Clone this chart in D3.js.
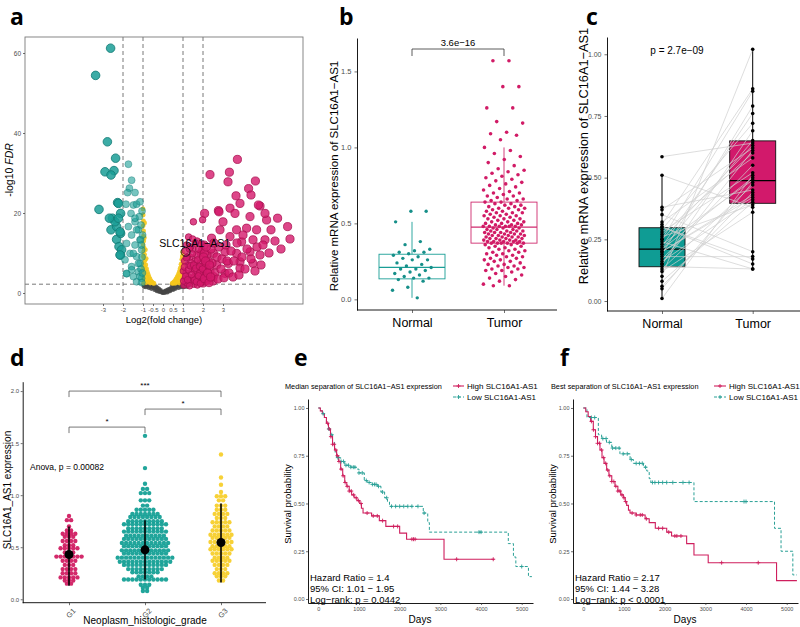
<!DOCTYPE html>
<html><head><meta charset="utf-8">
<script src="https://cdn.jsdelivr.net/npm/d3@7"></script>
<style>body{margin:0;background:#fff}svg{display:block}</style>
</head><body><svg id="chart" width="800" height="627"></svg>
<script>
// ---------------- DATA ----------------
// a: volcano [log2FC, -log10 FDR]
const volcTeal = [[-2.62,61.2],[-3.37,54.4],[-2.78,37.8],[-2.37,33.7],[-2.9,30.3],[-2.45,30.6],[-2.6,29.5],[-3.2,20.9],[-2.27,22.6],[-2.53,18.7],[-2.12,19.9],[-2.6,15.8],[-2.32,16.6],[-2.32,13.4],[-2.12,14.9],[-2.12,9.5],[-2.2,11.6],[-2.4,17.8],[-2.23,18.7],[-2.68,18.7],[-2.23,22.4],[-2.15,15.3],[-2.07,10.8],[-2.15,9.5],
[-1.73,32.2],[-1.57,28.2],[-1.68,26.2],[-1.77,25.1],[-1.4,25.1],[-1.85,22.2],[-1.48,22],[-1.32,22.2],[-1.6,19.9],[-1.18,19.1],[-1.4,17.8],[-1.73,16.6],[-1.23,15.8],[-1.57,14.5],[-1.15,13.3],[-1.82,12.4],[-1.4,12],[-1.07,10.8],[-1.65,9.9],[-1.32,9.1],[-1.9,8.3],[-1.15,7.4],[-1.57,6.6],[-1.23,5.3],[-1.82,4.8],[-1.48,4.1],[-1.07,3.7],[-1.32,2.8],[-1.15,22.8],[-1.4,18.7],[-1.32,15.8],[-1.12,13.3],[-1.48,9.9],[-1.23,7.4],[-1.57,5.8],[-1.15,4.1],[-1.82,4.9],[-1.05,20.5],[-1.1,17],[-1.02,14.5],[-1.08,12],[-1.05,9],[-1.1,6],[-1.03,5],[-1.06,2.6]];
const volcPink = [[3.72,33.4],[2.35,29.6],[3.32,30.2],[3.25,27.8],[4.62,28],[4.28,26.1],[4.4,24.5],[3.65,24.3],[2.08,19.9],[2.77,20.6],[3.35,21.2],[3.85,22.4],[4.85,21.75],[5.18,18.25],[5.1,19.9],[5.73,18.7],[6.23,16.6],[6.35,13.5],[5.4,15.8],[5.1,13.3],
[1.52,17.8],[1.98,18.3],[2.8,20.3],[4.77,22],[4.35,19.1],[3.6,19.9],[3.0,17.8],[2.85,15.8],[3.68,15.8],[4.18,16.2],[4.68,15.8],[4.5,13.3],[3.93,12.8],[3.35,14.1],[2.43,13.7],[1.93,10.8],[2.52,9.9],[3.1,10.3],[3.68,9.9],[4.35,10.3],[4.85,9.5],[3.85,7.8],[4.5,7.4],[3.27,7.4],[2.68,7],[3.1,4.9],[3.85,6.2],[2.18,5.8],[1.85,4.1],[2.52,4.1],
[1.05,2],[1.1,3.5],[1.15,5],[1.2,2.5],[1.25,7],[1.3,4],[1.35,9],[1.4,3],[1.45,6],[1.5,11],[1.55,2.2],[1.6,8],[1.65,4.5],[1.7,13],[1.75,6.5],[1.8,3],[1.85,10],[1.9,5],[1.95,8.5],[2.0,2.5],[2.05,12],[2.1,7],[2.15,4],[2.2,9.5],[1.08,8],[1.12,10.5],[1.18,12],[1.28,14],[1.38,11.5],[1.48,13.5],[1.58,5.5],[1.68,9.5],[1.78,11],[1.88,7.5],[1.98,4.5],[2.08,10],[2.18,6],[2.28,8],[1.02,5.5],[1.22,9],[1.42,7.5],[1.62,12.5],[1.82,5],[2.02,6.5],[2.25,3.5],[1.33,1.8],[1.52,3.8],[1.72,2],[1.92,2.8],[2.12,3],[2.35,5.5],[2.4,11],[2.45,7.5],[2.5,3],[2.55,12.5],[2.6,5],[2.7,9],[2.75,3.5],[2.8,11.5],[2.9,6],[2.95,8.5],[3.05,3.8],[3.15,12],[3.2,8],[3.3,5],[3.4,10.5],[3.5,4],[3.55,8],[3.7,12.5],[3.8,4.5],[3.95,9],[4.1,6],[4.2,11],[4.0,14.5],[4.4,8.5],[4.6,5.5],[4.7,11.5],[4.9,7],[5.0,12],[5.3,10],[5.6,13],[5.9,11],
[1.03,3],[1.07,6.5],[1.13,4.2],[1.17,8.8],[1.23,3.3],[1.27,5.8],[1.32,11],[1.37,6.8],[1.43,4.6],[1.47,9.8],[1.53,7],[1.57,3.2],[1.63,6.2],[1.67,2.8],[1.73,8.3],[1.77,4.3],[1.83,6.6],[1.87,2.4],[1.93,12.2],[1.97,6],[2.03,9],[2.07,3.6],[2.13,8],[2.17,11.5],[2.23,5],[2.3,2.6],[2.33,7],[2.38,4]];
const volcYellow = [[-1.0,21],[-0.99,19.5],[-0.98,18],[-0.99,16.8],[-0.97,15.5],[-0.98,14.2],[-0.96,13],[-0.99,12],[-0.94,11.2],[-0.97,10.3],[-0.92,9.6],[-0.96,8.8],[-0.9,8.1],[-0.95,7.4],[-0.86,7],[-0.93,6.4],[-0.82,6],[-0.9,5.6],[-0.78,5.2],[-0.95,5],[-0.74,4.6],[-0.86,4.4],[-0.7,4],[-0.8,3.8],[-0.97,3.6],[-0.65,3.5],[-0.76,3.2],[-0.9,3],[-0.6,3],[-0.7,2.8],[-0.55,2.7],[-0.83,2.6],[-0.5,2.5],[-0.64,2.5],[-0.45,2.4],[-0.97,2.5],[-0.92,17.5],[-0.93,13.8],[-0.88,10.8],[-0.84,8.6],[-0.99,6.2],[-0.98,9.2],
[0.99,10.2],[0.97,9.2],[0.94,8.4],[0.99,7.6],[0.9,7.2],[0.96,6.6],[0.86,6.2],[0.93,5.7],[0.82,5.4],[0.98,5.2],[0.78,4.8],[0.89,4.6],[0.74,4.3],[0.95,4.1],[0.7,3.9],[0.84,3.7],[0.66,3.5],[0.98,3.4],[0.62,3.2],[0.76,3.1],[0.58,2.9],[0.9,2.9],[0.54,2.7],[0.68,2.6],[0.5,2.5],[0.82,2.5],[0.46,2.4],[0.6,2.4]];
const volcGrey = [[-0.98,2.1],[-0.9,1.9],[-0.82,2.0],[-0.75,1.7],[-0.68,1.9],[-0.6,1.6],[-0.55,2.0],[-0.5,1.4],[-0.45,1.8],[-0.4,1.2],[-0.36,1.6],[-0.32,0.9],[-0.28,1.3],[-0.24,0.7],[-0.2,1.0],[-0.16,0.5],[-0.12,0.7],[-0.08,0.3],[-0.04,0.15],[0,0.05],[0.04,0.2],[0.08,0.4],[0.12,0.3],[0.16,0.6],[0.2,0.45],[0.24,0.8],[0.28,0.6],[0.32,1.0],[0.36,0.8],[0.4,1.2],[0.44,1.0],[0.48,1.5],[0.52,1.2],[0.56,1.7],[0.6,1.4],[0.65,1.9],[0.7,1.6],[0.75,2.0],[0.8,1.8],[0.88,2.1],[0.95,1.7],[1.02,2.0],[1.1,1.8],[1.18,2.1],[1.26,1.9],[1.35,2.1],[-0.95,1.6],[-0.85,1.5],[-0.7,1.3],[-0.58,1.1],[-0.42,0.8],[-0.3,0.5],[-0.18,0.3],[0.1,0.1],[0.22,0.2],[0.35,0.5],[0.5,0.8],[0.62,1.1],[0.78,1.3],[0.9,1.5],[1.05,1.5],[1.2,1.6],[-0.65,2.1],[0.45,2.1]];
const volcHighlight = {name: "SLC16A1\u2212AS1", fc: 1.13, fdr: 10.3};
const volcXTicks = [-3,-2,-1,-0.5,0,0.5,1,2,3];
const volcYTicks = [0,20,40,60];
const volcVLines = [-2,-1,1,2];
const volcHLine = 2.2;

// b: expression Normal vs Tumor
const groupsB = ["Normal","Tumor"];
const normalB = [0.58,0.58,0.51,0.38,0.36,0.33,0.32,0.31,0.31,0.30,0.29,0.28,0.27,0.26,0.26,0.24,0.23,0.22,0.21,0.20,0.20,0.19,0.18,0.17,0.16,0.15,0.14,0.14,0.13,0.12,0.08,0.06,0.01];
const tumorB = [1.57,1.57,1.40,1.40,1.26,1.26,1.17,1.16,1.10,1.09,1.08,1.05,1.00,0.98,0.96,0.94,0.92,0.90,0.88,0.86,0.85,0.84,0.83,0.82,0.81,0.80,0.79,0.78,0.77,0.76,0.75,0.74,0.73,0.72,0.71,0.70,0.70,0.69,0.68,0.68,0.67,0.66,0.66,0.65,0.65,
0.64,0.64,0.63,0.63,0.62,0.62,0.61,0.61,0.60,0.60,0.60,0.59,0.59,0.58,0.58,0.57,0.57,0.57,0.56,0.56,0.55,0.55,0.55,0.54,0.54,0.53,0.53,0.53,0.52,0.52,0.51,0.51,0.51,0.50,0.50,0.50,0.49,0.49,0.49,0.48,0.48,0.48,0.48,0.48,0.48,
0.47,0.47,0.47,0.46,0.46,0.46,0.45,0.45,0.45,0.45,0.44,0.44,0.44,0.44,0.43,0.43,0.43,0.43,0.42,0.42,0.42,0.42,0.41,0.41,0.41,0.41,0.40,0.40,0.40,0.40,0.39,0.39,0.39,0.39,0.38,0.38,0.38,0.38,0.38,0.37,0.37,0.37,0.37,0.37,0.37,
0.36,0.36,0.35,0.35,0.34,0.34,0.33,0.33,0.32,0.32,0.31,0.31,0.30,0.30,0.29,0.29,0.28,0.28,0.27,0.27,0.26,0.26,0.25,0.25,0.24,0.23,0.23,0.22,0.22,0.21,0.21,0.20,0.20,0.19,0.19,0.18,0.17,0.16,0.15,0.14,0.13,0.12,0.10,0.09,0.09];
const boxB = [{q1:0.135,med:0.21,q3:0.297,lo:0.01,hi:0.51},{q1:0.37,med:0.476,q3:0.64,lo:0.09,hi:1.0}];
const pLabelB = "3.6e\u221216";

// c: paired samples
const groupsC = ["Normal","Tumor"];
const normalC = [0.585,0.51,0.38,0.37,0.35,0.32,0.31,0.30,0.29,0.28,0.27,0.26,0.25,0.24,0.23,0.22,0.21,0.21,0.20,0.19,0.18,0.17,0.16,0.15,0.14,0.13,0.12,0.10,0.08,0.06,0.05,0.01,0.30,0.25,0.20,0.15];
const tumorC  = [0.64,0.38,0.45,0.62,0.20,0.58,0.86,0.15,0.72,0.52,0.60,0.39,0.85,0.13,0.49,0.76,0.65,0.50,0.43,0.79,0.18,0.55,0.41,0.61,0.13,0.47,0.36,1.02,0.40,0.44,0.48,0.51,0.17,0.63,0.42,0.69];
const boxC = [{q1:0.139,med:0.21,q3:0.297,lo:0.01,hi:0.51},{q1:0.396,med:0.488,q3:0.649,lo:0.13,hi:1.02}];
const pLabelC = "p = 2.7e\u221209";

// d: dot plot by grade, [value, count] bins
const gradesD = ["G1","G2","G3"];
const dotsG1 = [[0.80,1],[0.76,2],[0.70,1],[0.66,2],[0.63,4],[0.60,3],[0.56,4],[0.52,3],[0.49,5],[0.45,3],[0.41,7],[0.37,4],[0.33,3],[0.29,4],[0.25,4],[0.21,5],[0.18,3],[0.15,2]];
const dotsG2 = [[1.57,1],[1.26,1],[1.11,1],[1.06,2],[1.02,3],[0.95,3],[0.90,2],[0.86,5],[0.82,7],[0.79,8],[0.75,9],[0.72,11],[0.68,9],[0.65,11],[0.61,10],[0.58,11],[0.54,12],[0.51,11],[0.47,12],[0.44,11],[0.40,14],[0.36,13],[0.33,11],[0.29,9],[0.26,7],[0.22,4],[0.19,11],[0.14,3],[0.11,2],[0.08,2]];
const dotsG3 = [[1.39,1],[1.17,1],[1.10,1],[1.03,1],[0.99,3],[0.95,2],[0.90,3],[0.86,3],[0.82,4],[0.78,3],[0.74,5],[0.70,4],[0.66,5],[0.62,6],[0.59,5],[0.55,6],[0.51,5],[0.48,6],[0.44,5],[0.40,4],[0.37,5],[0.33,4],[0.29,3],[0.25,4],[0.22,3],[0.18,2]];
const meanD = [0.43,0.475,0.545];
const sdLowD = [0.13,0.19,0.16];
const sdHighD = [0.70,0.76,0.92];
const bracketsD = [{a:0,b:2,y:2.0,lab:"***"},{a:1,b:2,y:1.827,lab:"*"},{a:0,b:1,y:1.654,lab:"*"}];
const anovaD = "Anova, p = 0.00082";

// e, f: Kaplan-Meier [days, survival]
const kmEHigh = [[0,1],[50,0.985],[100,0.97],[150,0.95],[200,0.92],[250,0.89],[300,0.85],[350,0.81],[400,0.78],[450,0.75],[500,0.72],[550,0.68],[600,0.645],[650,0.61],[700,0.59],[760,0.565],[820,0.545],[880,0.53],[950,0.515],[1020,0.50],[1060,0.475],[1100,0.45],[1310,0.435],[1500,0.41],[1660,0.38],[2000,0.345],[2170,0.313],[3090,0.208],[4330,0.208]];
const kmELow = [[0,1],[50,0.985],[100,0.97],[150,0.95],[200,0.92],[250,0.89],[300,0.86],[350,0.82],[400,0.77],[450,0.74],[550,0.72],[650,0.70],[800,0.69],[930,0.68],[1000,0.66],[1130,0.62],[1200,0.61],[1300,0.60],[1450,0.59],[1540,0.56],[1630,0.53],[1700,0.51],[1750,0.485],[2580,0.45],[2690,0.40],[2730,0.35],[4670,0.29],[4796,0.22],[4855,0.17],[5165,0.117],[5250,0.117]];
const censEHigh = [230,270,310,350,390,430,470,510,560,610,660,710,760,810,870,930,990,1050,1200,1350,1450,1580,1850,1950,2300,2340,2380,3400,4300];
const censELow = [120,260,330,480,560,620,680,740,800,860,900,1000,1080,1180,1250,1330,1380,1420,1480,1580,1680,1800,1900,2000,2100,2200,2300,2450,2600,3950,4000,5000];
const kmFHigh = [[0,1],[60,0.98],[120,0.955],[180,0.93],[246,0.886],[300,0.85],[350,0.815],[410,0.78],[460,0.74],[510,0.71],[574,0.675],[630,0.645],[700,0.615],[779,0.59],[850,0.565],[920,0.545],[984,0.53],[1030,0.51],[1066,0.49],[1110,0.465],[1148,0.45],[1300,0.44],[1520,0.42],[1620,0.40],[1770,0.37],[2050,0.35],[2170,0.33],[2540,0.29],[2720,0.23],[3070,0.19],[4750,0.096],[5250,0.096]];
const kmFLow = [[0,1],[90,0.95],[370,0.86],[450,0.84],[570,0.82],[700,0.79],[900,0.76],[1150,0.73],[1230,0.71],[1480,0.69],[1560,0.67],[1620,0.63],[1660,0.61],[2720,0.51],[4700,0.37],[4860,0.25],[5150,0.126],[5250,0.126]];
const censFHigh = [200,250,300,350,400,450,500,550,600,650,700,750,800,850,900,950,1000,1040,1200,1300,1400,1450,1550,1850,1950,2100,2250,2300,2400,3400,4300];
const censFLow = [200,280,480,560,640,720,800,880,980,1080,1180,1300,1380,1450,1530,1700,1760,1850,1950,2050,2200,2450,2600,3950,4000];
const kmXTicks = [0,1000,2000,3000,4000,5000];
const kmYTicks = [0,0.25,0.5,0.75,1];
const kmTitles = ["Median separation of SLC16A1\u2212AS1 expression","Best separation of SLC16A1\u2212AS1 expression"];
const kmLegend = ["High SLC16A1-AS1","Low SLC16A1-AS1"];
const kmStatsE = ["Hazard Ratio = 1.4","95% CI: 1.01 \u2212 1.95","Log\u2212rank: p = 0.0442"];
const kmStatsF = ["Hazard Ratio = 2.17","95% CI: 1.44 \u2212 3.28","Log\u2212rank: p < 0.0001"];

// ---------------- DRAWING ----------------
const FONT = '"Liberation Sans", Arial, sans-serif';
const TEAL = '#1a9e96', PINK = '#d4196c', YEL = '#f5c61c', DGREY = '#454545';
const svg = d3.select('#chart');

function txt(g, x, y, s, size, opt={}) {
  const t = g.append('text').attr('x', x).attr('y', y).text(s)
    .attr('font-family', opt.family || FONT).attr('font-size', size)
    .attr('fill', opt.fill || '#000').attr('text-anchor', opt.anchor || 'start');
  if (opt.weight) t.attr('font-weight', opt.weight);
  return t;
}
function vtxt(g, cx, cy, s, size) {
  return g.append('text').attr('transform', `translate(${cx},${cy}) rotate(-90)`).attr('text-anchor', 'middle')
    .attr('font-family', FONT).attr('font-size', size).attr('fill', '#000').text(s);
}
function styleAxis(g, fs, noDomain) {
  g.attr('font-family', FONT);
  if (noDomain) g.select('.domain').remove();
  else g.select('.domain').attr('stroke', '#000').attr('stroke-width', 0.9);
  g.selectAll('.tick line').attr('stroke', '#333').attr('stroke-width', 0.7);
  g.selectAll('.tick text').attr('fill', '#4d4d4d').attr('font-size', fs);
}
const jit = i => ((i * 0.6180339887) % 1) * 2 - 1;

// panel labels
[['a',10,25],['b',339,25],['c',586,25],['d',10,366],['e',294,366],['f',560,366]].forEach(([l,x,y]) =>
  txt(svg, x, y, l, 23, {weight: 700, family: '"Open Sans", "Liberation Sans", sans-serif'}));

// ===== Panel a =====
(function(){
  const g = svg.append('g');
  const x = d3.scaleLinear().domain([-6.9, 7.0]).range([25, 303]);
  const y = d3.scaleLinear().domain([-2.75, 64]).range([304, 37]);
  g.append('clipPath').attr('id', 'clipA').append('rect').attr('x', 25).attr('y', 37).attr('width', 278).attr('height', 267);
  const inner = g.append('g').attr('clip-path', 'url(#clipA)');
  volcVLines.forEach(v => inner.append('line').attr('x1', x(v)).attr('x2', x(v)).attr('y1', 37).attr('y2', 304)
    .attr('stroke', '#555').attr('stroke-width', 0.8).attr('stroke-dasharray', '4,3'));
  inner.append('line').attr('x1', 25).attr('x2', 303).attr('y1', y(volcHLine)).attr('y2', y(volcHLine))
    .attr('stroke', '#555').attr('stroke-width', 0.8).attr('stroke-dasharray', '4,3');
  inner.selectAll('.gr').data(volcGrey).join('circle').attr('cx', d => x(d[0])).attr('cy', d => y(d[1])).attr('r', 2.3)
    .attr('fill', DGREY).attr('fill-opacity', 0.85);
  inner.selectAll('.ye').data(volcYellow).join('circle').attr('cx', d => x(d[0])).attr('cy', d => y(d[1])).attr('r', 2.4)
    .attr('fill', YEL).attr('fill-opacity', 0.9);
  const big = d => Math.abs(d[0]) >= 2;
  inner.selectAll('.te').data(volcTeal).join('circle').attr('cx', d => x(d[0])).attr('cy', d => y(d[1]))
    .attr('r', d => big(d) ? 4.3 : 3.5).attr('fill', TEAL).attr('fill-opacity', d => big(d) ? 0.85 : 0.6)
    .attr('stroke', '#137a74').attr('stroke-opacity', d => big(d) ? 0.9 : 0.45).attr('stroke-width', 0.9);
  inner.selectAll('.pk').data(volcPink).join('circle').attr('cx', d => x(d[0])).attr('cy', d => y(d[1]))
    .attr('r', d => big(d) ? 4.1 : 3.3).attr('fill', PINK).attr('fill-opacity', 0.8)
    .attr('stroke', '#a8104f').attr('stroke-opacity', 0.85).attr('stroke-width', 0.9);
  inner.append('circle').attr('cx', x(volcHighlight.fc)).attr('cy', y(volcHighlight.fdr)).attr('r', 4.5)
    .attr('fill', 'none').attr('stroke', '#111').attr('stroke-width', 0.9);
  txt(g, x(volcHighlight.fc) + 9, y(volcHighlight.fdr) - 5, volcHighlight.name, 10.5, {anchor: 'middle'});
  g.append('rect').attr('x', 25).attr('y', 37).attr('width', 278).attr('height', 267)
    .attr('fill', 'none').attr('stroke', '#7a7a7a').attr('stroke-width', 0.9);
  const ya = g.append('g').attr('transform', 'translate(25,0)')
    .call(d3.axisLeft(y).tickValues(volcYTicks).tickSize(2).tickPadding(2));
  styleAxis(ya, 6.5, true);
  const xa = g.append('g').attr('transform', 'translate(0,304)')
    .call(d3.axisBottom(x).tickValues(volcXTicks).tickSize(2).tickPadding(1.5).tickFormat(d => String(d)));
  styleAxis(xa, 6, true);
  const yl = g.append('text').attr('transform', 'translate(13,170) rotate(-90)').attr('text-anchor', 'middle')
    .attr('font-family', FONT).attr('font-size', 10.5);
  yl.append('tspan').text('-log10 ');
  yl.append('tspan').attr('font-style', 'italic').text('FDR');
  txt(g, 164, 323, 'Log2(fold change)', 9.5, {anchor: 'middle'});
})();

// ===== Panel b =====
(function(){
  const g = svg.append('g');
  const y = d3.scaleLinear().domain([-0.07, 1.72]).range([310, 38]);
  const x = d3.scalePoint().domain(groupsB).range([412, 504]);
  const cols = [TEAL, '#cf2a6e'];
  const bw = 66;
  boxB.forEach((b, i) => {
    const cx = x(groupsB[i]);
    g.append('line').attr('x1', cx).attr('x2', cx).attr('y1', y(b.lo)).attr('y2', y(b.q1)).attr('stroke', cols[i]).attr('stroke-width', 0.9);
    g.append('line').attr('x1', cx).attr('x2', cx).attr('y1', y(b.q3)).attr('y2', y(b.hi)).attr('stroke', cols[i]).attr('stroke-width', 0.9);
    g.append('rect').attr('x', cx - bw/2).attr('y', y(b.q3)).attr('width', bw).attr('height', y(b.q1) - y(b.q3))
      .attr('fill', 'none').attr('stroke', cols[i]).attr('stroke-width', 0.9);
    g.append('line').attr('x1', cx - bw/2).attr('x2', cx + bw/2).attr('y1', y(b.med)).attr('y2', y(b.med)).attr('stroke', cols[i]).attr('stroke-width', 1.2);
  });
  g.selectAll('.nb').data(normalB).join('circle').attr('cx', (d, i) => x('Normal') + jit(i + 3) * 20).attr('cy', d => y(d))
    .attr('r', 1.7).attr('fill', '#168f89');
  g.selectAll('.tb').data(tumorB).join('circle').attr('cx', (d, i) => x('Tumor') + jit(i + 1) * 21).attr('cy', d => y(d))
    .attr('r', 1.8).attr('fill', '#d11b66');
  const by = 49;
  g.append('path').attr('d', `M${x('Normal')},${by + 7}V${by}H${x('Tumor')}V${by + 7}`).attr('fill', 'none').attr('stroke', '#333').attr('stroke-width', 0.8);
  txt(g, (x('Normal') + x('Tumor')) / 2, by - 3, pLabelB, 9.5, {anchor: 'middle'});
  const ya = g.append('g').attr('transform', 'translate(357,0)')
    .call(d3.axisLeft(y).tickValues([0, 0.5, 1, 1.5]).tickFormat(d3.format('.1f')).tickSize(2.5).tickSizeOuter(0));
  styleAxis(ya, 7.5);
  const xa = g.append('g').attr('transform', 'translate(0,310)').call(d3.axisBottom(x).tickSize(3).tickSizeOuter(0));
  xa.select('.domain').attr('d', 'M357,0H557');
  styleAxis(xa, 12.5);
  xa.selectAll('.tick text').attr('fill', '#000').attr('dy', '0.9em');
  vtxt(g, 338, 176, 'Relative mRNA expression of SLC16A1\u2212AS1', 11.5);
})();

// ===== Panel c =====
(function(){
  const g = svg.append('g');
  const y = d3.scaleLinear().domain([-0.04, 1.07]).range([310.9, 37]);
  const x = d3.scalePoint().domain(groupsC).range([662, 752.7]);
  const fills = ['#0f9c94', '#d2196b'];
  const bw = 46;
  boxC.forEach((b, i) => {
    const cx = x(groupsC[i]);
    g.append('line').attr('x1', cx).attr('x2', cx).attr('y1', y(b.lo)).attr('y2', y(b.hi)).attr('stroke', '#000').attr('stroke-width', 1);
    g.append('rect').attr('x', cx - bw/2).attr('y', y(b.q3)).attr('width', bw).attr('height', y(b.q1) - y(b.q3))
      .attr('fill', fills[i]).attr('stroke', '#111').attr('stroke-width', 0.9);
    g.append('line').attr('x1', cx - bw/2).attr('x2', cx + bw/2).attr('y1', y(b.med)).attr('y2', y(b.med)).attr('stroke', '#000').attr('stroke-width', 1.2);
  });
  normalC.forEach((v, i) => g.append('line').attr('x1', x('Normal')).attr('x2', x('Tumor')).attr('y1', y(v)).attr('y2', y(tumorC[i]))
    .attr('stroke', '#cfcfcf').attr('stroke-width', 0.8).attr('stroke-opacity', 0.9));
  g.selectAll('.nc').data(normalC).join('circle').attr('cx', x('Normal')).attr('cy', d => y(d)).attr('r', 1.8).attr('fill', '#000');
  g.selectAll('.tc').data(tumorC).join('circle').attr('cx', x('Tumor')).attr('cy', d => y(d)).attr('r', 1.8).attr('fill', '#000');
  txt(g, 677, 54, pLabelC, 10, {anchor: 'middle'});
  const ya = g.append('g').attr('transform', 'translate(607,0)')
    .call(d3.axisLeft(y).tickValues([0, 0.25, 0.5, 0.75, 1]).tickFormat(d3.format('.2f')).tickSize(2.5).tickSizeOuter(0));
  styleAxis(ya, 7);
  const xa = g.append('g').attr('transform', 'translate(0,311)').call(d3.axisBottom(x).tickSize(3).tickSizeOuter(0));
  xa.select('.domain').attr('d', 'M607,0H800');
  styleAxis(xa, 12.5);
  xa.selectAll('.tick text').attr('fill', '#000').attr('dy', '0.85em');
  vtxt(g, 588, 156, 'Relative mRNA expression of SLC16A1\u2212AS1', 12.8);
})();

// ===== Panel d =====
(function(){
  const g = svg.append('g');
  const y = d3.scaleLinear().domain([-0.033, 2.09]).range([602.7, 381.7]);
  const x = d3.scalePoint().domain(gradesD).range([69, 221]);
  const cols = ['#d11f63', '#15a096', '#f7cf2c'];
  const sets = [dotsG1, dotsG2, dotsG3];
  const sp = 4.2;
  sets.forEach((bins, gi) => {
    const cx = x(gradesD[gi]);
    bins.forEach(([v, n]) => {
      for (let k = 0; k < n; k++) {
        g.append('circle').attr('cx', cx + (k - (n - 1) / 2) * sp).attr('cy', y(v)).attr('r', 2.2)
          .attr('fill', cols[gi]).attr('fill-opacity', 0.95);
      }
    });
    g.append('line').attr('x1', cx).attr('x2', cx).attr('y1', y(sdLowD[gi])).attr('y2', y(sdHighD[gi])).attr('stroke', '#000').attr('stroke-width', 1.6);
    g.append('circle').attr('cx', cx).attr('cy', y(meanD[gi])).attr('r', 4.5).attr('fill', '#000');
  });
  bracketsD.forEach(b => {
    const x1 = x(gradesD[b.a]), x2 = x(gradesD[b.b]), yy = y(b.y);
    g.append('path').attr('d', `M${x1},${yy + 6}V${yy}H${x2}V${yy + 6}`).attr('fill', 'none').attr('stroke', '#555').attr('stroke-width', 0.8);
    txt(g, (x1 + x2) / 2, yy - 3, b.lab, 8, {anchor: 'middle'});
  });
  txt(g, 30, 470, anovaD, 8.5);
  const ya = g.append('g').attr('transform', 'translate(22.7,0)')
    .call(d3.axisLeft(y).tickValues([0, 0.5, 1, 1.5, 2]).tickFormat(d3.format('.1f')).tickSize(2).tickSizeOuter(0).tickPadding(1.5));
  styleAxis(ya, 6);
  const xa = g.append('g').attr('transform', 'translate(0,602.7)').call(d3.axisBottom(x).tickSize(2.5).tickSizeOuter(0));
  xa.select('.domain').attr('d', 'M22.7,0H266');
  styleAxis(xa, 7.5);
  xa.selectAll('.tick text').attr('text-anchor', 'end').attr('dy', '0.3em').attr('transform', 'translate(3,5) rotate(-45)').attr('y', 3);
  txt(g, 145, 624, 'Neoplasm_histologic_grade', 10, {anchor: 'middle'});
  vtxt(g, 11, 490, 'SLC16A1_AS1 expression', 10);
})();

// ===== Panels e, f =====
function stepAt(steps, t) { let s = steps[0][1]; for (const p of steps) { if (p[0] <= t) s = p[1]; else break; } return s; }
function kmPanel(ox, high, low, censH, censL, title, titleX, stats, legX) {
  const g = svg.append('g');
  const axL = ox, axR = ox + 225;
  const x = d3.scaleLinear().domain([-253, 5277]).range([axL, axR]);
  const y = d3.scaleLinear().domain([-0.021, 1.047]).range([603, 399]);
  const cH = '#cf1f5e', cL = '#2aa096';
  const line = d3.line().x(d => x(d[0])).y(d => y(d[1])).curve(d3.curveStepAfter);
  g.append('path').attr('d', line(low)).attr('fill', 'none').attr('stroke', cL).attr('stroke-width', 1).attr('stroke-dasharray', '3,2');
  g.append('path').attr('d', line(high)).attr('fill', 'none').attr('stroke', cH).attr('stroke-width', 1.1);
  const plus = (gg, cx, cy, c) => {
    gg.append('path').attr('d', `M${cx - 2},${cy}H${cx + 2}M${cx},${cy - 2}V${cy + 2}`).attr('stroke', c).attr('stroke-width', 0.9);
  };
  censL.forEach(t => plus(g, x(t), y(stepAt(low, t)), cL));
  censH.forEach(t => plus(g, x(t), y(stepAt(high, t)), cH));
  const ya = g.append('g').attr('transform', `translate(${axL},0)`)
    .call(d3.axisLeft(y).tickValues(kmYTicks).tickFormat(d3.format('.2f')).tickSize(2).tickSizeOuter(0).tickPadding(1.5));
  styleAxis(ya, 5.5);
  const xa = g.append('g').attr('transform', 'translate(0,603)')
    .call(d3.axisBottom(x).tickValues(kmXTicks).tickFormat(d3.format('d')).tickSize(2).tickSizeOuter(0).tickPadding(2));
  styleAxis(xa, 5.5);
  txt(g, (x(0) + x(5000)) / 2, 623, 'Days', 10, {anchor: 'middle'});
  vtxt(g, axL - 17, 504, 'Survival probability', 9.5);
  stats.forEach((s, i) => txt(g, axL + 2, 581 + i * 10.8, s, 9.5));
  txt(g, titleX, 389, title, 7.3);
  const [l1, l2, tx] = legX, m = (l1 + l2) / 2;
  g.append('line').attr('x1', l1).attr('x2', l2).attr('y1', 386).attr('y2', 386).attr('stroke', cH).attr('stroke-width', 1.1);
  plus(g, m, 386, cH);
  g.append('line').attr('x1', l1).attr('x2', l2).attr('y1', 397).attr('y2', 397).attr('stroke', cL).attr('stroke-width', 1).attr('stroke-dasharray', '3,2');
  plus(g, m, 397, cL);
  txt(g, tx, 389, kmLegend[0], 8);
  txt(g, tx, 400, kmLegend[1], 8);
}
kmPanel(308, kmEHigh, kmELow, censEHigh, censELow, kmTitles[0], 285, kmStatsE, [453, 464, 467]);
kmPanel(573, kmFHigh, kmFLow, censFHigh, censFLow, kmTitles[1], 551, kmStatsF, [714, 726, 729]);
</script></body></html>
